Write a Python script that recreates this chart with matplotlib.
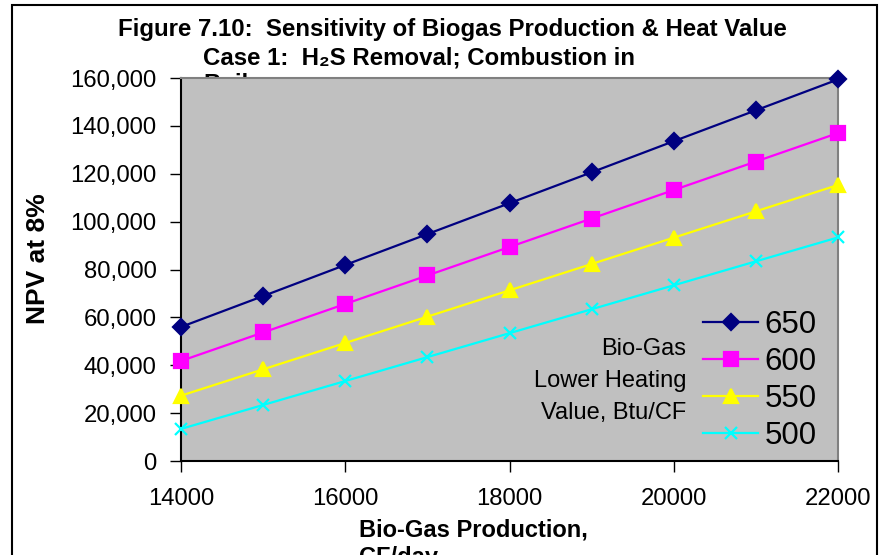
import matplotlib
matplotlib.use("Agg")
import matplotlib.pyplot as plt
from matplotlib.patches import Rectangle
from matplotlib.ticker import FuncFormatter, MultipleLocator

# biogas production, CF/day
production = [14000, 15000, 16000, 17000, 18000, 19000, 20000, 21000, 22000]

# NPV at 8% for each lower heating value (Btu/CF)
npv_650 = [56000, 68900, 81900, 94800, 107700, 120600, 133600, 146500, 159400]
npv_600 = [41800, 53700, 65600, 77500, 89400, 101300, 113200, 125100, 137000]
npv_550 = [27300, 38300, 49300, 60300, 71300, 82300, 93300, 104300, 115300]
npv_500 = [13400, 23400, 33400, 43400, 53400, 63400, 73400, 83400, 93400]

heat_labels = ["650", "600", "550", "500"]

W, H = 880, 555
FONT = ["Liberation Sans", "DejaVu Sans"]
plt.rcParams["font.family"] = FONT

fig = plt.figure(figsize=(W / 100, H / 100), dpi=100)
ax = fig.add_axes([181 / W, 1 - 461 / H, 657 / W, 383 / H])
ax.set_facecolor("#C0C0C0")


def fx(px):
    return px / W


def fy(py):
    return 1 - py / H


# outer chart border (bottom edge falls off the canvas)
fig.patches.append(Rectangle((fx(12), fy(600)), fx(877) - fx(12), fy(5) - fy(600),
                             transform=fig.transFigure, fill=False,
                             edgecolor="black", lw=1.5, zorder=-2))

series = [
    (npv_650, "#000080", "D", 8),
    (npv_600, "#FF00FF", "s", 9.5),
    (npv_550, "#FFFF00", "^", 9.5),
    (npv_500, "#00FFFF", "x", 9),
]
for (vals, color, marker, ms), label in zip(series, heat_labels):
    ax.plot(production, vals, color=color, lw=1.6, marker=marker, ms=ms,
            mfc=color, mec=color, mew=1.6, label=label, clip_on=False, zorder=3)

ax.set_xlim(14000, 22000)
ax.set_ylim(0, 160000)
ax.xaxis.set_major_locator(MultipleLocator(2000))
ax.yaxis.set_major_locator(MultipleLocator(20000))
ax.yaxis.set_major_formatter(FuncFormatter(lambda v, p: f"{int(v):,}"))
ax.tick_params(axis="both", direction="out", length=8, width=1, colors="black",
               labelsize=17.2)
ax.tick_params(axis="y", pad=9.5)
ax.tick_params(axis="x", pad=11.3)

for side in ["left", "bottom"]:
    ax.spines[side].set_color("black")
    ax.spines[side].set_linewidth(1.5)
for side in ["top", "right"]:
    ax.spines[side].set_color("#808080")
    ax.spines[side].set_linewidth(1.5)

leg = ax.legend(loc="center left", bbox_to_anchor=(fx(703), fy(380.5)),
                bbox_transform=fig.transFigure, frameon=False, fontsize=22.5,
                borderpad=0, borderaxespad=0, handlelength=1.76,
                handletextpad=0.2, labelspacing=0.23)

fig.text(fx(686), fy(381), "Bio-Gas\nLower Heating\nValue, Btu/CF",
         ha="right", va="center", multialignment="right", fontsize=17,
         linespacing=1.6)

# titles: third line sits behind the plot area
fig.text(fx(452), fy(36), "Figure 7.10:  Sensitivity of Biogas Production & Heat Value",
         ha="center", va="baseline", fontsize=17.3, fontweight="bold", zorder=-1)
fig.text(fx(203), fy(64), "Case 1:  H\u2082S Removal; Combustion in",
         ha="left", va="baseline", fontsize=17.3, fontweight="bold", zorder=-1)
fig.text(fx(203), fy(91), "Boiler",
         ha="left", va="baseline", fontsize=17.3, fontweight="bold", zorder=-1)

# x-axis title, second line runs off the bottom edge
fig.text(fx(359), fy(537), "Bio-Gas Production,", ha="left", va="baseline",
         fontsize=17, fontweight="bold")
fig.text(fx(359), fy(564), "CF/day", ha="left", va="baseline",
         fontsize=17, fontweight="bold")
fig.text(fx(38), fy(259), "NPV at 8%", rotation=90, ha="center", va="center",
         fontsize=19, fontweight="bold")

fig.savefig("out.png", dpi=100)
